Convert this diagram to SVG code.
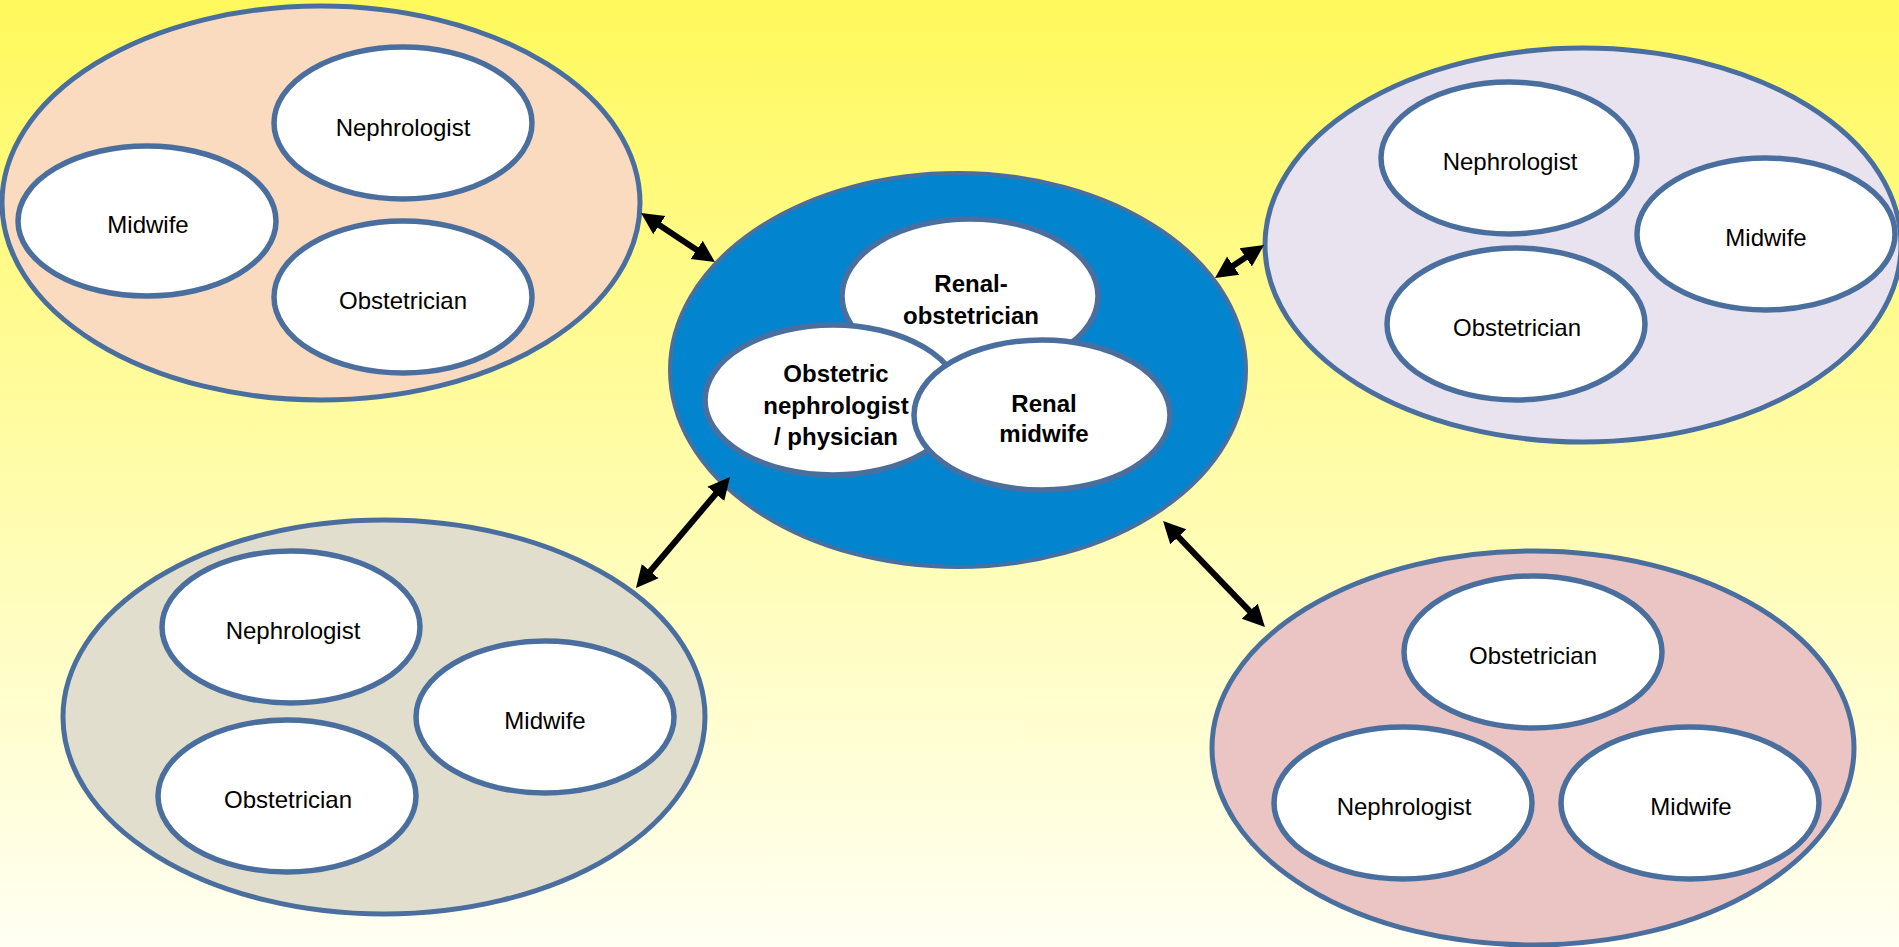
<svg xmlns="http://www.w3.org/2000/svg" width="1899" height="947" viewBox="0 0 1899 947">
  <defs>
    <linearGradient id="bg" x1="0" y1="0" x2="0" y2="1">
      <stop offset="0" stop-color="#FFF95C"/>
      <stop offset="0.5" stop-color="#FFFCAA"/>
      <stop offset="1" stop-color="#FFFFF3"/>
    </linearGradient>
    <marker id="head" viewBox="-2 -12 24 24" refX="0" refY="0" markerWidth="24" markerHeight="24" markerUnits="userSpaceOnUse" orient="auto-start-reverse">
      <path d="M-2,-11 L20,0 L-2,11 Z" fill="#000"/>
    </marker>
  </defs>
  <style>
    .outer { stroke: #4A6F9E; stroke-width: 5; }
    .inner { fill: #FFFFFF; stroke: #4A6F9E; stroke-width: 5.5; }
    .lbl { font-family: "Liberation Sans", Arial, sans-serif; font-size: 24px; fill: #000; text-anchor: middle; dominant-baseline: central; }
    .blbl { font-family: "Liberation Sans", Arial, sans-serif; font-size: 24px; font-weight: bold; fill: #000; text-anchor: middle; dominant-baseline: central; }
    .conn { stroke: #000; stroke-width: 6; fill: none; marker-start: url(#head); marker-end: url(#head); }
  </style>
  <rect x="0" y="0" width="1899" height="947" fill="url(#bg)"/>

  <g id="team-top-left">
    <ellipse class="outer" cx="321" cy="203" rx="319" ry="197" fill="#FADBC0"/>
    <g id="tl-nephrologist">
      <ellipse class="inner" cx="403" cy="123" rx="129" ry="76"/>
      <text class="lbl" x="403" y="127">Nephrologist</text>
    </g>
    <g id="tl-midwife">
      <ellipse class="inner" cx="147" cy="221" rx="129" ry="75"/>
      <text class="lbl" x="148" y="224">Midwife</text>
    </g>
    <g id="tl-obstetrician">
      <ellipse class="inner" cx="403" cy="297" rx="129" ry="76"/>
      <text class="lbl" x="403" y="300">Obstetrician</text>
    </g>
  </g>

  <g id="team-top-right">
    <ellipse class="outer" cx="1583" cy="245" rx="318" ry="197" fill="#E8E3EF"/>
    <g id="tr-nephrologist">
      <ellipse class="inner" cx="1509" cy="158" rx="128" ry="76"/>
      <text class="lbl" x="1510" y="161">Nephrologist</text>
    </g>
    <g id="tr-midwife">
      <ellipse class="inner" cx="1766" cy="234" rx="129" ry="76"/>
      <text class="lbl" x="1766" y="237">Midwife</text>
    </g>
    <g id="tr-obstetrician">
      <ellipse class="inner" cx="1516" cy="324" rx="129" ry="76"/>
      <text class="lbl" x="1517" y="327">Obstetrician</text>
    </g>
  </g>

  <g id="team-bottom-left">
    <ellipse class="outer" cx="384" cy="717" rx="321" ry="197" fill="#E1DECD"/>
    <g id="bl-nephrologist">
      <ellipse class="inner" cx="291" cy="627" rx="129" ry="76"/>
      <text class="lbl" x="293" y="630">Nephrologist</text>
    </g>
    <g id="bl-midwife">
      <ellipse class="inner" cx="545" cy="717" rx="129" ry="76"/>
      <text class="lbl" x="545" y="720">Midwife</text>
    </g>
    <g id="bl-obstetrician">
      <ellipse class="inner" cx="287" cy="796" rx="129" ry="76"/>
      <text class="lbl" x="288" y="799">Obstetrician</text>
    </g>
  </g>

  <g id="team-bottom-right">
    <ellipse class="outer" cx="1533" cy="748" rx="321" ry="197" fill="#EBC5C4"/>
    <g id="br-obstetrician">
      <ellipse class="inner" cx="1533" cy="652" rx="129" ry="76"/>
      <text class="lbl" x="1533" y="655">Obstetrician</text>
    </g>
    <g id="br-nephrologist">
      <ellipse class="inner" cx="1403" cy="803" rx="129" ry="76"/>
      <text class="lbl" x="1404" y="806">Nephrologist</text>
    </g>
    <g id="br-midwife">
      <ellipse class="inner" cx="1690" cy="803" rx="129" ry="76"/>
      <text class="lbl" x="1691" y="806">Midwife</text>
    </g>
  </g>

  <g id="core-team">
    <ellipse cx="958" cy="370" rx="288" ry="197" fill="#0384CF" stroke="#4A6F9E" stroke-width="4"/>
    <g id="renal-obstetrician">
      <ellipse class="inner" cx="970" cy="296" rx="128" ry="77"/>
      <text class="blbl" x="971" y="283">Renal-</text>
      <text class="blbl" x="971" y="315">obstetrician</text>
    </g>
    <g id="obstetric-nephrologist">
      <ellipse class="inner" cx="833" cy="400" rx="128" ry="75"/>
      <text class="blbl" x="836" y="373">Obstetric</text>
      <text class="blbl" x="836" y="405">nephrologist</text>
      <text class="blbl" x="836" y="436">/ physician</text>
    </g>
    <g id="renal-midwife">
      <ellipse class="inner" cx="1042" cy="415" rx="128" ry="75"/>
      <text class="blbl" x="1044" y="403">Renal</text>
      <text class="blbl" x="1044" y="433">midwife</text>
    </g>
  </g>

  <g id="connectors">
    <line class="conn" x1="657.7" y1="224" x2="698.3" y2="251"/>
    <line class="conn" x1="1231.6" y1="266.8" x2="1247.4" y2="256.2"/>
    <line class="conn" x1="717.1" y1="492.3" x2="648.9" y2="572.7"/>
    <line class="conn" x1="1176.9" y1="535.4" x2="1251.1" y2="612.6"/>
  </g>
</svg>
